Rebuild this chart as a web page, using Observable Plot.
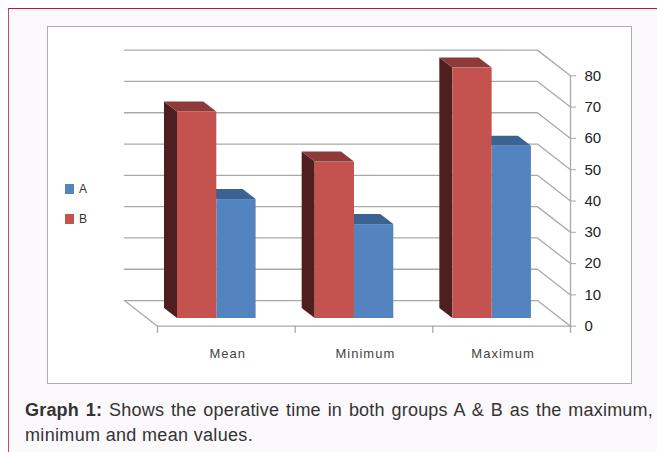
<!DOCTYPE html>
<html>
<head>
<meta charset="utf-8">
<script src="https://cdn.jsdelivr.net/npm/d3@7"></script>
<script src="https://cdn.jsdelivr.net/npm/@observablehq/plot@0.6"></script>
<style>
html,body{margin:0;padding:0;background:#fff;overflow:hidden}
body{width:657px;height:452px;position:relative;font-family:"Liberation Sans",Arial,sans-serif}
#panel{position:absolute;left:8px;top:8px;width:649px;height:444px;background:#fbf9fb;border-top:1px solid #c2103f;border-left:1px solid #c9446c;box-sizing:border-box}
#box{position:absolute;left:47px;top:26px;width:585px;height:358px;background:#fff;border:1.5px solid #adadad;box-sizing:border-box}
#plot{position:absolute;left:48px;top:27px;width:584px;height:357px}
#plot svg{display:block;background:transparent}
.cat text{letter-spacing:1px}
.leg{position:absolute;left:65px;font-size:12px;color:#333;line-height:10px;height:10px}
.leg i{display:inline-block;width:9px;height:10px;margin-right:5px;vertical-align:top}
#cap{position:absolute;left:25px;top:398px;width:628px;font-size:18px;line-height:24.5px;color:#333;letter-spacing:.33px}
#cap b{letter-spacing:.2px}
#cap .l1{display:block;text-align:justify;text-align-last:justify;white-space:nowrap;letter-spacing:.2px}
</style>
</head>
<body>
<div id="panel"></div>
<div id="box"></div>
<div id="plot"></div>
<div class="leg" id="legA" style="top:184px"></div>
<div class="leg" id="legB" style="top:214px"></div>
<div id="cap"><span class="l1"><b>Graph 1:</b> Shows the operative time in both groups A &amp; B as the maximum,</span>minimum and mean values.</div>
<script>
const categories = ["Mean", "Minimum", "Maximum"];
const valuesA = [38, 30, 55];
const valuesB = [66, 50, 80];
const yTicks = [0, 10, 20, 30, 40, 50, 60, 70, 80];
const xTicks = [0, 1, 2, 3];
const seriesNames = ["A", "B"];

const colors = {
  A: {front: "#5384c0", top: "#3b6391"},
  B: {front: "#c4534f", top: "#8e3a38", side: "#4f1f1f"}
};
// Oblique projection, in data units
const wallDx = -0.24, wallDy = 8.2;
const barLift = 2.46, depthDx = -0.0944, depthDy = 3.19;
const barStart = 0.1453, barWidth = 0.2855;
const gridColor = "#a9a9a9";

const gridLines = yTicks.flatMap(v => [
  {v, x: wallDx, y: v + wallDy},
  {v, x: 3 + wallDx, y: v + wallDy},
  {v, x: 3, y: v}
]);
const floorLeft = [{x: wallDx, y: wallDy}, {x: 0, y: 0}, {x: 3, y: 0}];
const rightAxis = [{x: 3, y: 0}, {x: 3, y: 80}];

function bars(values, slot) {
  return values.map((v, i) => {
    const x1 = i + barStart + slot * barWidth;
    return {key: i, x1, x2: x1 + barWidth, base: barLift, top: v + barLift};
  });
}
const barsB = bars(valuesB, 0);
const barsA = bars(valuesA, 1);
const topFace = d => [
  {key: d.key, y: d.top, x1: d.x1, x2: d.x2},
  {key: d.key, y: d.top + depthDy, x1: d.x1 + depthDx, x2: d.x2 + depthDx}
];
const sideFace = d => [
  {key: d.key, x: d.x1 + depthDx, y1: d.base + depthDy, y2: d.top + depthDy},
  {key: d.key, x: d.x1, y1: d.base, y2: d.top}
];

const chart = Plot.plot({
  width: 584, height: 357,
  marginLeft: 109, marginRight: 62, marginTop: 48.3, marginBottom: 58.3,
  style: {background: "transparent", fontFamily: "'Liberation Sans',Arial,sans-serif"},
  x: {type: "linear", domain: [0, 3], axis: null},
  y: {domain: [0, 80], axis: null},
  marks: [
    Plot.line(gridLines, {x: "x", y: "y", z: "v", stroke: gridColor, strokeWidth: 1.3}),
    Plot.line(floorLeft, {x: "x", y: "y", stroke: gridColor, strokeWidth: 1.3}),
    Plot.line(rightAxis, {x: "x", y: "y", stroke: gridColor, strokeWidth: 1.3}),
    Plot.axisY(yTicks, {anchor: "right", tickSize: 5, tickPadding: 9, label: null, stroke: gridColor, color: "#222", fontSize: 15, tickFormat: d => d, textStroke: "none", x: 3}),
    Plot.ruleX(xTicks, {x: d => d, y1: () => 0, y2: () => -2.3, stroke: gridColor, strokeWidth: 1.3}),
    Plot.text(categories, {x: (d, i) => i + 0.51, y: () => -8.9, text: d => d, fontSize: 13, fill: "#444", className: "cat"}),
    Plot.areaX(barsA.flatMap(topFace), {y: "y", x1: "x1", x2: "x2", z: "key", fill: colors.A.top}),
    Plot.rect(barsA, {x1: "x1", x2: "x2", y1: "base", y2: "top", fill: colors.A.front}),
    Plot.areaY(barsB.flatMap(sideFace), {x: "x", y1: "y1", y2: "y2", z: "key", fill: colors.B.side}),
    Plot.areaX(barsB.flatMap(topFace), {y: "y", x1: "x1", x2: "x2", z: "key", fill: colors.B.top}),
    Plot.rect(barsB, {x1: "x1", x2: "x2", y1: "base", y2: "top", fill: colors.B.front})
  ]
});
document.getElementById("plot").appendChild(chart);
seriesNames.forEach(n => {
  const el = document.getElementById("leg" + n);
  el.innerHTML = `<i style="background:${colors[n].front}"></i>${n}`;
});
</script>
</body>
</html>
